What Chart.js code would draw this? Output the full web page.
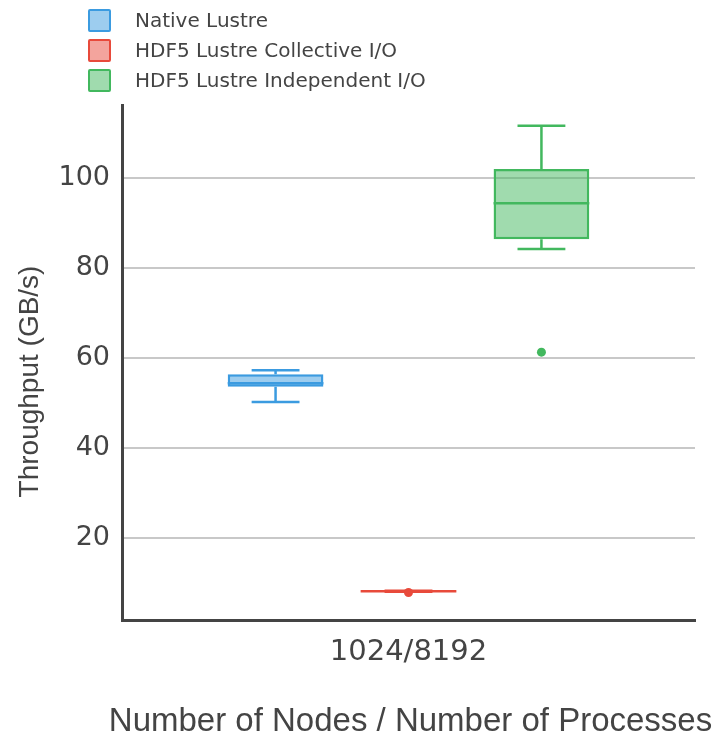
<!DOCTYPE html>
<html>
<head>
<meta charset="utf-8">
<script src="https://cdn.jsdelivr.net/npm/chart.js@4/dist/chart.umd.min.js"></script>
<style>
    body { margin: 0; background: #fff; }
    #wrap { position: relative; width: 720px; height: 741px; }
    #legend { position: absolute; left: 88px; top: 5px; font-family: 'DejaVu Sans', Verdana, sans-serif; font-size: 20px; color: #444; }
    .leg-item { display: flex; align-items: center; height: 30px; }
    .leg-box { width: 19px; height: 19px; border-width: 2.5px; border-style: solid; margin-right: 24px; border-radius: 2px; }
</style>
</head>
<body>
<div id="wrap">
    <canvas id="chart" width="720" height="741"></canvas>
    <div id="legend"></div>
</div>
<script>
const categories = ['1024/8192'];
const seriesNames = ['Native Lustre', 'HDF5 Lustre Collective I/O', 'HDF5 Lustre Independent I/O'];
const seriesColors = ['#3b9be0', '#e84a3b', '#42b85e'];
const seriesFills = ['rgba(59,155,224,0.5)', 'rgba(232,74,59,0.5)', 'rgba(66,184,94,0.5)'];

// box stats per series: whisker low, q1, median, q3, whisker high
const whiskerLow = [50.2, 8.1, 84.2];
const q1 = [53.6, 8.15, 86.4];
const median = [54.4, 8.2, 94.4];
const q3 = [56.4, 8.25, 102.0];
const whiskerHigh = [57.3, 8.3, 111.6];
const outliers = [[], [7.9], [61.3]];

const yTicks = [20, 40, 60, 80, 100];
const xTitle = 'Number of Nodes / Number of Processes';
const yTitle = 'Throughput (GB/s)';

const boxExtras = {
    id: 'boxExtras',
    afterDatasetsDraw(chart) {
        const ctx = chart.ctx;
        const y = chart.scales.y;
        chart.data.datasets.forEach((ds, i) => {
            const el = chart.getDatasetMeta(i).data[0];
            if (!el) return;
            const x = el.x;
            const w = el.width;
            ctx.save();
            ctx.strokeStyle = seriesColors[i];
            ctx.fillStyle = seriesColors[i];
            ctx.lineWidth = 2.5;
            ctx.beginPath();
            // median
            ctx.moveTo(x - w / 2, y.getPixelForValue(median[i]));
            ctx.lineTo(x + w / 2, y.getPixelForValue(median[i]));
            // whiskers
            ctx.moveTo(x, y.getPixelForValue(q3[i]));
            ctx.lineTo(x, y.getPixelForValue(whiskerHigh[i]));
            ctx.moveTo(x, y.getPixelForValue(q1[i]));
            ctx.lineTo(x, y.getPixelForValue(whiskerLow[i]));
            // caps
            ctx.moveTo(x - w / 4, y.getPixelForValue(whiskerHigh[i]));
            ctx.lineTo(x + w / 4, y.getPixelForValue(whiskerHigh[i]));
            ctx.moveTo(x - w / 4, y.getPixelForValue(whiskerLow[i]));
            ctx.lineTo(x + w / 4, y.getPixelForValue(whiskerLow[i]));
            ctx.stroke();
            outliers[i].forEach(v => {
                ctx.beginPath();
                ctx.arc(x, y.getPixelForValue(v), 4.5, 0, Math.PI * 2);
                ctx.fill();
            });
            ctx.restore();
        });
    },
    afterDraw(chart) {
        // axis titles drawn by hand: the original ones overhang the plot area
        const ctx = chart.ctx;
        const area = chart.chartArea;
        ctx.save();
        ctx.fillStyle = '#444';
        ctx.textAlign = 'center';
        ctx.textBaseline = 'middle';
        ctx.font = '33px "Liberation Sans"';
        ctx.fillText(xTitle, (area.left + area.right) / 2 + 2, 722);
        ctx.translate(30, (area.top + area.bottom) / 2 + 19);
        ctx.rotate(-Math.PI / 2);
        ctx.font = '28px "Liberation Sans"';
        ctx.fillText(yTitle, 0, 0);
        ctx.restore();
    }
};

const legendEl = document.getElementById('legend');
seriesNames.forEach((name, i) => {
    legendEl.innerHTML += `
        <div class="leg-item">
            <span class="leg-box" style="border-color:${seriesColors[i]};background:${seriesFills[i]}"></span>
            <span>${name}</span>
        </div>`;
});

new Chart(document.getElementById('chart'), {
    type: 'bar',
    data: {
        labels: categories,
        datasets: seriesNames.map((name, i) => ({
            label: name,
            data: [[q1[i], q3[i]]],
            backgroundColor: seriesFills[i],
            borderColor: seriesColors[i],
            borderWidth: 2.5,
            borderSkipped: false,
            categoryPercentage: 0.696,
            barPercentage: 0.72
        }))
    },
    options: {
        responsive: false,
        animation: false,
        layout: { padding: { top: 105, right: 25, left: 0, bottom: 0 } },
        plugins: {
            legend: { display: false },
            tooltip: { enabled: false }
        },
        scales: {
            x: {
                grid: { display: false, drawTicks: false },
                border: { display: true, color: '#444', width: 3 },
                ticks: { color: '#444', padding: 15, font: { family: '"DejaVu Sans"', size: 29 } },
                title: { display: false },
                afterFit(scale) { scale.height = 121; }
            },
            y: {
                min: 1.8,
                max: 116.2,
                afterBuildTicks(scale) { scale.ticks = yTicks.map(v => ({ value: v })); },
                grid: { color: '#c8c8c8', lineWidth: 2, drawTicks: false },
                border: { display: true, color: '#444', width: 3 },
                ticks: { color: '#444', padding: 12, font: { family: '"DejaVu Sans"', size: 27 } },
                title: { display: false },
                afterFit(scale) { scale.width = 122; }
            }
        }
    },
    plugins: [boxExtras]
});
</script>
</body>
</html>
